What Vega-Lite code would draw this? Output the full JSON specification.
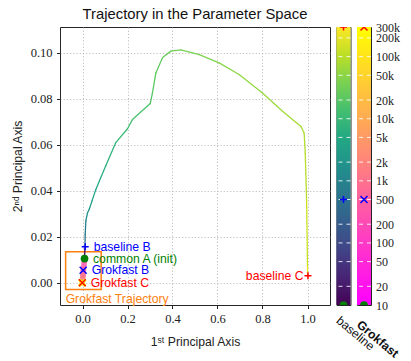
{
  "$schema": "https://vega.github.io/schema/vega-lite/v6.json",
  "background": "white",
  "padding": {"left": 10, "top": 6, "right": 5, "bottom": 5},
  "config": {
    "font": "Liberation Sans",
    "view": {"stroke": "#262626", "strokeWidth": 1},
    "axis": {
      "domain": false,
      "labelFont": "Liberation Serif",
      "labelFontSize": 12.5,
      "labelColor": "#222",
      "titleFont": "Liberation Sans",
      "titleFontSize": 12.2,
      "titleFontWeight": "normal",
      "titleColor": "#222",
      "tickColor": "#222",
      "tickSize": 3.5,
      "gridColor": "#b0b0b0",
      "gridDash": [1.2, 2],
      "gridWidth": 0.8
    }
  },
  "datasets": {
    "baseline": [
      {"x": 0.009, "y": 0.0105, "step": 10},
      {"x": 0.011, "y": 0.0156, "step": 500},
      {"x": 0.012, "y": 0.021, "step": 800},
      {"x": 0.015, "y": 0.027, "step": 1500},
      {"x": 0.022, "y": 0.0303, "step": 2200},
      {"x": 0.030, "y": 0.0320, "step": 3000},
      {"x": 0.042, "y": 0.0355, "step": 4000},
      {"x": 0.059, "y": 0.0405, "step": 5000},
      {"x": 0.080, "y": 0.0455, "step": 6500},
      {"x": 0.104, "y": 0.0510, "step": 8000},
      {"x": 0.148, "y": 0.0610, "step": 11000},
      {"x": 0.200, "y": 0.0670, "step": 14000},
      {"x": 0.222, "y": 0.0710, "step": 16000},
      {"x": 0.301, "y": 0.0780, "step": 20000},
      {"x": 0.311, "y": 0.0826, "step": 22000},
      {"x": 0.326, "y": 0.0913, "step": 25000},
      {"x": 0.356, "y": 0.0980, "step": 29000},
      {"x": 0.393, "y": 0.1008, "step": 33000},
      {"x": 0.437, "y": 0.1013, "step": 37000},
      {"x": 0.519, "y": 0.0993, "step": 43000},
      {"x": 0.607, "y": 0.0957, "step": 50000},
      {"x": 0.696, "y": 0.0906, "step": 57000},
      {"x": 0.800, "y": 0.0826, "step": 65000},
      {"x": 0.889, "y": 0.0746, "step": 75000},
      {"x": 0.971, "y": 0.0680, "step": 85000},
      {"x": 0.985, "y": 0.0652, "step": 90000},
      {"x": 0.990, "y": 0.0564, "step": 100000},
      {"x": 0.996, "y": 0.0360, "step": 140000},
      {"x": 1.000, "y": 0.0070, "step": 250000},
      {"x": 1.000, "y": 0.0030, "step": 300000}
    ],
    "grokfast": [
      {"x": 0.009, "y": 0.0105, "step": 10},
      {"x": 0.0088, "y": 0.0100, "step": 300},
      {"x": 0.004, "y": 0.0055, "step": 500},
      {"x": 0.002, "y": 0.0030, "step": 1200},
      {"x": 0.000, "y": 0.0005, "step": 3000},
      {"x": -0.001, "y": 0.0000, "step": 300000}
    ],
    "markers": [
      {"name": "baseline B", "x": 0.012, "y": 0.0156},
      {"name": "common A (init)", "x": 0.009, "y": 0.0105},
      {"name": "Grokfast B", "x": 0.003, "y": 0.0054},
      {"name": "Grokfast C", "x": -0.001, "y": 0.0},
      {"name": "baseline C", "x": 1.002, "y": 0.003}
    ],
    "box": [
      {"x": -0.075, "x2": 0.083, "y": -0.003, "y2": 0.0135, "label": "Grokfast Trajectory"}
    ],
    "bar": [{"step": 10, "step2": 300000}],
    "cbticks": [
      {"step": 20}, {"step": 50}, {"step": 100}, {"step": 200}, {"step": 500},
      {"step": 1000}, {"step": 2000}, {"step": 5000}, {"step": 10000}, {"step": 20000},
      {"step": 50000}, {"step": 100000}, {"step": 200000}
    ],
    "cbmarks": [
      {"name": "A", "step": 10},
      {"name": "B", "step": 500},
      {"name": "C", "step": 300000}
    ]
  },
  "spacing": 6.5,
  "bounds": "flush",
  "resolve": {"scale": {"x": "independent", "y": "independent", "color": "independent"}},
  "hconcat": [
    {
      "width": 270,
      "height": 278,
      "title": {"text": "Trajectory in the Parameter Space", "font": "Liberation Sans", "fontSize": 14.8, "fontWeight": "normal", "color": "#111", "offset": 5},
      "resolve": {"scale": {"color": "independent"}},
      "encoding": {
        "x": {"field": "x", "type": "quantitative", "scale": {"domain": [-0.1, 1.1], "nice": false, "zero": false},
              "axis": {"values": [0, 0.2, 0.4, 0.6, 0.8, 1.0], "format": ".1f", "title": "1ˢᵗ Principal Axis", "labelPadding": 4, "titlePadding": 10.5}},
        "y": {"field": "y", "type": "quantitative", "scale": {"domain": [-0.0097, 0.1113], "nice": false, "zero": false},
              "axis": {"values": [0, 0.02, 0.04, 0.06, 0.08, 0.1], "format": ".2f", "title": "2ⁿᵈ Principal Axis", "labelPadding": 4.5, "titlePadding": 6}}
      },
      "layer": [
        {
          "data": {"name": "box"},
          "mark": {"type": "rect", "fillOpacity": 0, "stroke": "#ff7f0e", "strokeWidth": 1.5},
          "encoding": {"x2": {"field": "x2"}, "y2": {"field": "y2"}}
        },
        {
          "data": {"name": "box"},
          "mark": {"type": "text", "align": "left", "baseline": "top", "dy": 3.5, "color": "#ff7f0e", "font": "Liberation Sans", "fontSize": 12.2},
          "encoding": {"text": {"field": "label"}}
        },
        {
          "data": {"name": "baseline"},
          "transform": [
            {"window": [{"op": "lead", "field": "x", "as": "xn"}, {"op": "lead", "field": "y", "as": "yn"}], "sort": [{"field": "step", "order": "ascending"}]},
            {"filter": "datum.xn != null"}
          ],
          "mark": {"type": "rule", "strokeWidth": 1.3, "strokeCap": "round"},
          "encoding": {
            "x2": {"field": "xn"},
            "y2": {"field": "yn"},
            "color": {"field": "step", "type": "quantitative", "scale": {"type": "log", "domain": [10, 300000], "scheme": "viridis"}, "legend": null}
          }
        },
        {
          "data": {"name": "grokfast"},
          "transform": [
            {"window": [{"op": "lead", "field": "x", "as": "xn"}, {"op": "lead", "field": "y", "as": "yn"}], "sort": [{"field": "step", "order": "ascending"}]},
            {"filter": "datum.xn != null"}
          ],
          "mark": {"type": "rule", "strokeWidth": 5.5, "strokeCap": "round", "opacity": 0.85},
          "encoding": {
            "x2": {"field": "xn"},
            "y2": {"field": "yn"},
            "color": {"field": "step", "type": "quantitative", "scale": {"type": "log", "domain": [10, 300000], "range": ["#ff00ff", "#ffff00"], "interpolate": "rgb"}, "legend": null}
          }
        },
        {
          "data": {"name": "markers"},
          "transform": [{"filter": "datum.name === 'common A (init)'"}],
          "mark": {"type": "point", "shape": "circle", "filled": true, "color": "#008000", "opacity": 1, "size": 60}
        },
        {
          "data": {"name": "markers"},
          "transform": [{"filter": "datum.name === 'baseline B'"}],
          "mark": {"type": "point", "shape": "M-1,0L1,0M0,-1L0,1", "filled": false, "stroke": "#0000ff", "strokeWidth": 1.5, "opacity": 1, "size": 49}
        },
        {
          "data": {"name": "markers"},
          "transform": [{"filter": "datum.name === 'Grokfast B'"}],
          "mark": {"type": "point", "shape": "M-1,-1L1,1M-1,1L1,-1", "filled": false, "stroke": "#0000ff", "strokeWidth": 1.5, "opacity": 1, "size": 49}
        },
        {
          "data": {"name": "markers"},
          "transform": [{"filter": "datum.name === 'Grokfast C'"}],
          "mark": {"type": "point", "shape": "M-1,-1L1,1M-1,1L1,-1", "filled": false, "stroke": "#ffee00", "strokeWidth": 3, "opacity": 1, "size": 42}
        },
        {
          "data": {"name": "markers"},
          "transform": [{"filter": "datum.name === 'Grokfast C'"}],
          "mark": {"type": "point", "shape": "M-1,-1L1,1M-1,1L1,-1", "filled": false, "stroke": "#ff0000", "strokeWidth": 1.3, "opacity": 1, "size": 49}
        },
        {
          "data": {"name": "markers"},
          "transform": [{"filter": "datum.name === 'baseline C'"}],
          "mark": {"type": "point", "shape": "M-1,0L1,0M0,-1L0,1", "filled": false, "stroke": "#ff0000", "strokeWidth": 1.5, "opacity": 1, "size": 49}
        },
        {
          "data": {"name": "markers"},
          "transform": [{"filter": "datum.name !== 'baseline C'"}],
          "mark": {"type": "text", "align": "left", "baseline": "middle", "dx": 8.5, "font": "Liberation Sans", "fontSize": 12.2},
          "encoding": {
            "text": {"field": "name"},
            "color": {"field": "name", "type": "nominal", "scale": {"domain": ["baseline B", "common A (init)", "Grokfast B", "Grokfast C"], "range": ["#0000ff", "#008000", "#0000ff", "#ff0000"]}, "legend": null}
          }
        },
        {
          "data": {"name": "markers"},
          "transform": [{"filter": "datum.name === 'baseline C'"}],
          "mark": {"type": "text", "align": "right", "baseline": "middle", "dx": -4.5, "font": "Liberation Sans", "fontSize": 12.2, "color": "#ff0000"},
          "encoding": {"text": {"field": "name"}}
        }
      ]
    },
    {
      "width": 14,
      "height": 278,
      "title": {"text": "baseline", "orient": "bottom", "anchor": "start", "angle": 40, "align": "left", "baseline": "top", "offset": 7, "dx": 6, "dy": -2, "font": "Liberation Sans", "fontSize": 12.2, "fontWeight": "normal", "color": "#111"},
      "encoding": {
        "y": {"field": "step", "type": "quantitative", "scale": {"type": "log", "domain": [10, 300000], "nice": false}, "axis": null}
      },
      "layer": [
        {
          "data": {"name": "bar"},
          "mark": {"type": "rect", "fill": {"gradient": "linear", "x1": 0, "y1": 1, "x2": 0, "y2": 0, "stops": [
            {"offset": 0.0, "color": "#440154"}, {"offset": 0.1, "color": "#482475"}, {"offset": 0.2, "color": "#414487"},
            {"offset": 0.3, "color": "#355f8d"}, {"offset": 0.4, "color": "#2a788e"}, {"offset": 0.5, "color": "#21918c"},
            {"offset": 0.6, "color": "#22a884"}, {"offset": 0.7, "color": "#44bf70"}, {"offset": 0.8, "color": "#7ad151"},
            {"offset": 0.9, "color": "#bddf26"}, {"offset": 1.0, "color": "#fde725"}]}},
          "encoding": {"y2": {"field": "step2"}}
        },
        {
          "data": {"name": "cbticks"},
          "mark": {"type": "rule", "color": "white", "strokeDash": [4, 4], "strokeWidth": 1, "opacity": 0.85},
          "encoding": {}
        },
        {
          "data": {"name": "cbmarks"},
          "transform": [{"filter": "datum.name === 'A'"}],
          "mark": {"type": "point", "shape": "circle", "filled": true, "color": "#008000", "opacity": 1, "size": 60, "clip": true}
        },
        {
          "data": {"name": "cbmarks"},
          "transform": [{"filter": "datum.name === 'B'"}],
          "mark": {"type": "point", "shape": "M-1,0L1,0M0,-1L0,1", "filled": false, "stroke": "#0000ff", "strokeWidth": 1.5, "opacity": 1, "size": 49, "clip": true}
        },
        {
          "data": {"name": "cbmarks"},
          "transform": [{"filter": "datum.name === 'C'"}],
          "mark": {"type": "point", "shape": "M-1,0L1,0M0,-1L0,1", "filled": false, "stroke": "#ff0000", "strokeWidth": 1.5, "opacity": 1, "size": 49, "clip": true}
        }
      ]
    },
    {
      "width": 14,
      "height": 278,
      "title": {"text": "Grokfast", "orient": "bottom", "anchor": "start", "angle": 40, "align": "left", "baseline": "top", "offset": 5, "dx": 6, "dy": -2, "font": "Liberation Sans", "fontSize": 12.2, "fontWeight": "bold", "color": "#111"},
      "encoding": {
        "y": {"field": "step", "type": "quantitative", "scale": {"type": "log", "domain": [10, 300000], "nice": false},
              "axis": {"orient": "right", "grid": false, "ticks": false, "labelPadding": 4.5, "labelOverlap": false, "labelFlush": false, "labelFontSize": 12, "title": null, "format": "~s",
                       "values": [10, 20, 50, 100, 200, 500, 1000, 2000, 5000, 10000, 20000, 50000, 100000, 200000, 300000]}}
      },
      "layer": [
        {
          "data": {"name": "bar"},
          "mark": {"type": "rect", "fill": {"gradient": "linear", "x1": 0, "y1": 1, "x2": 0, "y2": 0, "stops": [
            {"offset": 0.0, "color": "#ff00ff"}, {"offset": 1.0, "color": "#ffff00"}]}},
          "encoding": {"y2": {"field": "step2"}}
        },
        {
          "data": {"name": "cbticks"},
          "mark": {"type": "rule", "color": "white", "strokeDash": [4, 4], "strokeWidth": 1, "opacity": 0.85},
          "encoding": {}
        },
        {
          "data": {"name": "cbmarks"},
          "transform": [{"filter": "datum.name === 'A'"}],
          "mark": {"type": "point", "shape": "circle", "filled": true, "color": "#008000", "opacity": 1, "size": 60, "clip": true}
        },
        {
          "data": {"name": "cbmarks"},
          "transform": [{"filter": "datum.name === 'B'"}],
          "mark": {"type": "point", "shape": "M-1,-1L1,1M-1,1L1,-1", "filled": false, "stroke": "#0000ff", "strokeWidth": 1.5, "opacity": 1, "size": 49, "clip": true}
        },
        {
          "data": {"name": "cbmarks"},
          "transform": [{"filter": "datum.name === 'C'"}],
          "mark": {"type": "point", "shape": "M-1,-1L1,1M-1,1L1,-1", "filled": false, "stroke": "#ff0000", "strokeWidth": 1.5, "opacity": 1, "size": 49, "clip": true}
        }
      ]
    }
  ]
}
